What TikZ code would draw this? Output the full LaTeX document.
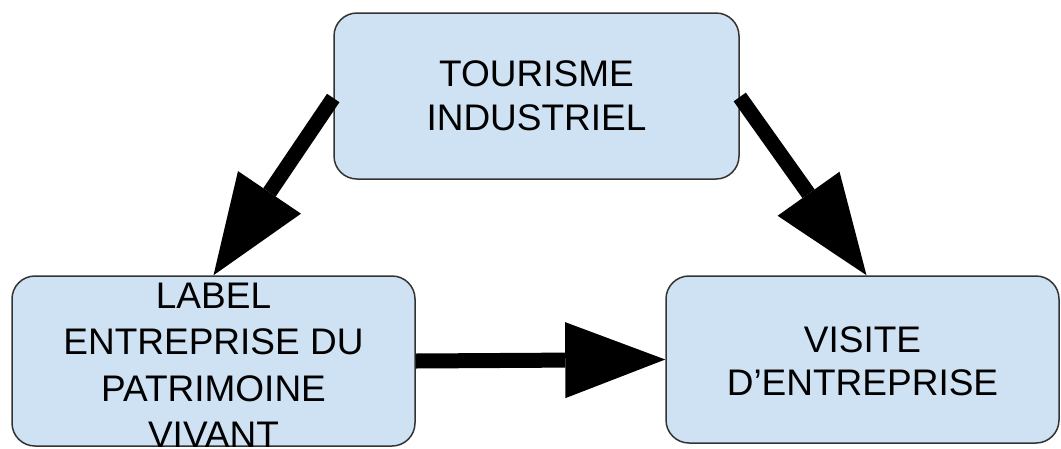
\documentclass[tikz,border=0pt]{standalone}
\usepackage{fontspec}
\setmainfont{Liberation Sans}
\usetikzlibrary{arrows.meta}
\definecolor{boxfill}{HTML}{CFE2F3}
\definecolor{boxline}{HTML}{333333}
\tikzset{
  box/.style={draw=boxline, line width=1.5pt, fill=boxfill, rounded corners=23pt,
    rectangle, inner sep=0pt},
  boxtext/.style={align=center, inner sep=0pt, text=black},
  bigarrow/.style={line width=15pt, -{Triangle[length=100pt, width=76pt, line width=0pt]}}
}
\begin{document}
\begin{tikzpicture}[x=1pt, y=-1pt]
\useasboundingbox (0,0) rectangle (1061,448);
% boxes
\node[box, minimum width=405pt, minimum height=166pt] (tb) at (536.5,96) {};
\node[box, minimum width=403pt, minimum height=170pt] (lb) at (213.5,361) {};
\node[box, minimum width=393pt, minimum height=167pt] (rb) at (862.5,359.5) {};
% texts
\node[boxtext, font=\fontsize{37}{43.5}\selectfont] (tt) at (tb.center) {TOURISME\\INDUSTRIEL};
\node[boxtext, font=\fontsize{37}{46.5}\selectfont] (lt) at ([yshift=-4.5pt]lb.center) {LABEL\\ENTREPRISE DU\\PATRIMOINE\\VIVANT};
\node[boxtext, font=\fontsize{37}{43.5}\selectfont] (rt) at ([yshift=-2pt]rb.center) {VISITE\\D’ENTREPRISE};
% arrows
\draw[bigarrow] ([yshift=-2pt]tb.west) -- (lb.north);
\draw[bigarrow] ([yshift=-1pt]tb.east) -- ([xshift=4pt]rb.north);
\draw[bigarrow] (lb.east) -- (rb.west);
\end{tikzpicture}
\end{document}
